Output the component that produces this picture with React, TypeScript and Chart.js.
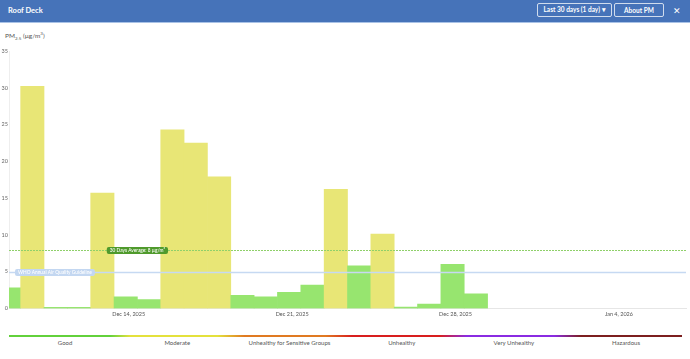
import React, { useEffect, useRef } from "react";
import { Chart, registerables } from "chart.js";

Chart.register(...registerables);

const categories = [
  "Dec 9, 2025", "Dec 10, 2025", "Dec 11, 2025", "Dec 12, 2025", "Dec 13, 2025",
  "Dec 14, 2025", "Dec 15, 2025", "Dec 16, 2025", "Dec 17, 2025", "Dec 18, 2025",
  "Dec 19, 2025", "Dec 20, 2025", "Dec 21, 2025", "Dec 22, 2025", "Dec 23, 2025",
  "Dec 24, 2025", "Dec 25, 2025", "Dec 26, 2025", "Dec 27, 2025", "Dec 28, 2025",
  "Dec 29, 2025", "Dec 30, 2025", "Dec 31, 2025", "Jan 1, 2026", "Jan 2, 2026",
  "Jan 3, 2026", "Jan 4, 2026", "Jan 5, 2026", "Jan 6, 2026", "Jan 7, 2026",
];

const pm25: (number | null)[] = [
  2.8, 30.2, 0.15, 0.15, 15.7, 1.6, 1.2, 24.3, 22.5, 17.9,
  1.8, 1.6, 2.2, 3.2, 16.2, 5.8, 10.1, 0.2, 0.6, 6.0,
  2.0, null, null, null, null, null, null, null, null, null,
];

const shownTickLabels = ["Dec 14, 2025", "Dec 21, 2025", "Dec 28, 2025", "Jan 4, 2026"];
const yTicks = [0, 5, 10, 15, 20, 25, 30, 35];

const averageValue = 8;
const averageLabel = "30 Days Average: 8 µg/m³";
const whoValue = 5;
const whoLabel = "WHO Annual Air Quality Guideline";

const legendLabels = ["Good", "Moderate", "Unhealthy for Sensitive Groups", "Unhealthy", "Very Unhealthy", "Hazardous"];

const GREEN = "#97e56f";
const YELLOW = "#e8e676";
const FONT = "Lato, 'Open Sans', sans-serif";

function roundRect(ctx: CanvasRenderingContext2D, x: number, y: number, w: number, h: number, r: number) {
  ctx.beginPath();
  ctx.moveTo(x + r, y);
  ctx.lineTo(x + w - r, y);
  ctx.quadraticCurveTo(x + w, y, x + w, y + r);
  ctx.lineTo(x + w, y + h - r);
  ctx.quadraticCurveTo(x + w, y + h, x + w - r, y + h);
  ctx.lineTo(x + r, y + h);
  ctx.quadraticCurveTo(x, y + h, x, y + h - r);
  ctx.lineTo(x, y + r);
  ctx.quadraticCurveTo(x, y, x + r, y);
  ctx.closePath();
}

const annotationPlugin = {
  id: "refLines",
  afterDatasetsDraw(chart: any) {
    const { ctx, chartArea, scales } = chart;
    const y = scales.y;
    const x = scales.x;
    ctx.save();
    // WHO line
    const wy = Math.round(y.getPixelForValue(whoValue)) + 0.5;
    ctx.strokeStyle = "#c6d9f2";
    ctx.lineWidth = 1.5;
    ctx.beginPath();
    ctx.moveTo(chartArea.left, wy);
    ctx.lineTo(chartArea.right, wy);
    ctx.stroke();
    // Average line
    const ay = Math.round(y.getPixelForValue(averageValue)) + 0.5;
    ctx.strokeStyle = "#8fd06a";
    ctx.lineWidth = 1;
    ctx.setLineDash([2, 1]);
    ctx.beginPath();
    ctx.moveTo(chartArea.left, ay);
    ctx.lineTo(chartArea.right, ay);
    ctx.stroke();
    ctx.setLineDash([]);

    ctx.font = `500 4.8px ${FONT}`;
    ctx.textBaseline = "middle";
    ctx.textAlign = "center";
    // WHO label
    const ww = ctx.measureText(whoLabel).width + 6;
    const wx = chartArea.left + 6;
    ctx.fillStyle = "#c3d7f1";
    roundRect(ctx, wx, wy - 3.5, ww, 7, 2);
    ctx.fill();
    ctx.fillStyle = "#ffffff";
    ctx.fillText(whoLabel, wx + ww / 2, wy + 0.3);
    // Avg label
    const aw = ctx.measureText(averageLabel).width + 6;
    const ax = x.getPixelForValue(5.5);
    ctx.fillStyle = "#4f9a2c";
    roundRect(ctx, ax - aw / 2, ay - 3.5, aw, 7, 2);
    ctx.fill();
    ctx.fillStyle = "#ffffff";
    ctx.fillText(averageLabel, ax, ay + 0.3);
    ctx.restore();
  },
};

function PmChart() {
  const ref = useRef<HTMLCanvasElement | null>(null);
  useEffect(() => {
    if (!ref.current) return;
    Chart.defaults.font.family = FONT;
    const chart = new Chart(ref.current, {
      type: "bar",
      data: {
        labels: categories,
        datasets: [
          {
            data: pm25 as any,
            backgroundColor: pm25.map((v) => (v !== null && v > 9 ? YELLOW : GREEN)),
            borderWidth: 0,
            barPercentage: 1,
            categoryPercentage: 1,
          },
        ],
      },
      options: {
        responsive: false,
        animation: false,
        devicePixelRatio: 1,
        layout: { padding: { top: 7, right: 4, left: 0, bottom: 0 } },
        plugins: { legend: { display: false }, tooltip: { enabled: false } },
        scales: {
          x: {
            offset: false,
            grid: { display: false, drawTicks: false },
            border: { display: true, color: "#e6e6e6", width: 1 },
            ticks: {
              autoSkip: false,
              maxRotation: 0,
              minRotation: 0,
              padding: 2,
              labelOffset: 3,
              color: "#555",
              font: { size: 5.5, family: FONT },
              callback: (_v: any, i: number) => (shownTickLabels.includes(categories[i]) ? categories[i] : ""),
            },
            afterFit: (s: any) => {
              s.height = 12.5;
            },
          },
          y: {
            min: 0,
            max: 35,
            afterBuildTicks: (s: any) => {
              s.ticks = yTicks.map((v) => ({ value: v }));
            },
            grid: { display: false, drawTicks: false },
            border: { display: true, color: "#eeeeee", width: 1 },
            ticks: {
              padding: 1,
              color: "#666",
              font: { size: 5.5, family: FONT },
            },
            afterFit: (s: any) => {
              s.width = 9;
            },
          },
        },
      },
      plugins: [annotationPlugin],
    });
    return () => chart.destroy();
  }, []);
  return <canvas ref={ref} width={690} height={277} style={{ position: "absolute", left: 0, top: 44, width: 690, height: 277 }} />;
}

const btn: React.CSSProperties = {
  position: "absolute",
  top: 3,
  height: 14,
  border: "1px solid rgba(255,255,255,0.75)",
  borderRadius: 2,
  color: "#fff",
  fontSize: 6.5,
  fontWeight: 700,
  display: "flex",
  alignItems: "center",
  justifyContent: "center",
  boxSizing: "border-box",
};

export default function App() {
  return (
    <div style={{ position: "fixed", left: 0, top: 0, width: 690, height: 359, background: "#fff", fontFamily: FONT, overflow: "hidden" }}>
      <div style={{ position: "absolute", left: 0, top: 0, width: 690, height: 22, background: "#4673b9", borderBottom: "1px solid #a9c2e6" }}>
        <div style={{ position: "absolute", left: 8, top: 0, height: 20, display: "flex", alignItems: "center", color: "#fff", fontWeight: 700, fontSize: 7.5 }}>Roof Deck</div>
        <div style={{ ...btn, left: 537, width: 75 }}>Last 30 days (1 day) ▾</div>
        <div style={{ ...btn, left: 614, width: 50 }}>About PM</div>
        <div style={{ position: "absolute", left: 672, top: 3, height: 14, width: 9, color: "#fff", fontSize: 9, display: "flex", alignItems: "center", justifyContent: "center" }}>✕</div>
      </div>
      <div style={{ position: "absolute", left: 5, top: 31, fontSize: 6.5, color: "#555", whiteSpace: "nowrap" }}>
        PM<sub style={{ fontSize: 4.5, color: "#555" }}>2.5</sub> (µg/m<sup style={{ fontSize: 4.5, color: "#555" }}>3</sup>)
      </div>
      <PmChart />
      <div
        style={{
          position: "absolute",
          left: 9,
          top: 335,
          width: 673,
          height: 2,
          background:
            "linear-gradient(to right, #62d13b 0%, #62d13b 15%, #e4e13c 18%, #e4e13c 31%, #e07a22 35%, #e07a22 47%, #d81e1e 51%, #d81e1e 64%, #8a2be2 68%, #8a2be2 81%, #7c1f1f 85%, #7c1f1f 100%)",
        }}
      />
      {legendLabels.map((l, i) => (
        <div key={l} style={{ position: "absolute", left: 9 + i * 112.2, width: 112.2, top: 339, textAlign: "center", fontSize: 6, color: "#555", whiteSpace: "nowrap" }}>
          {l}
        </div>
      ))}
    </div>
  );
}
